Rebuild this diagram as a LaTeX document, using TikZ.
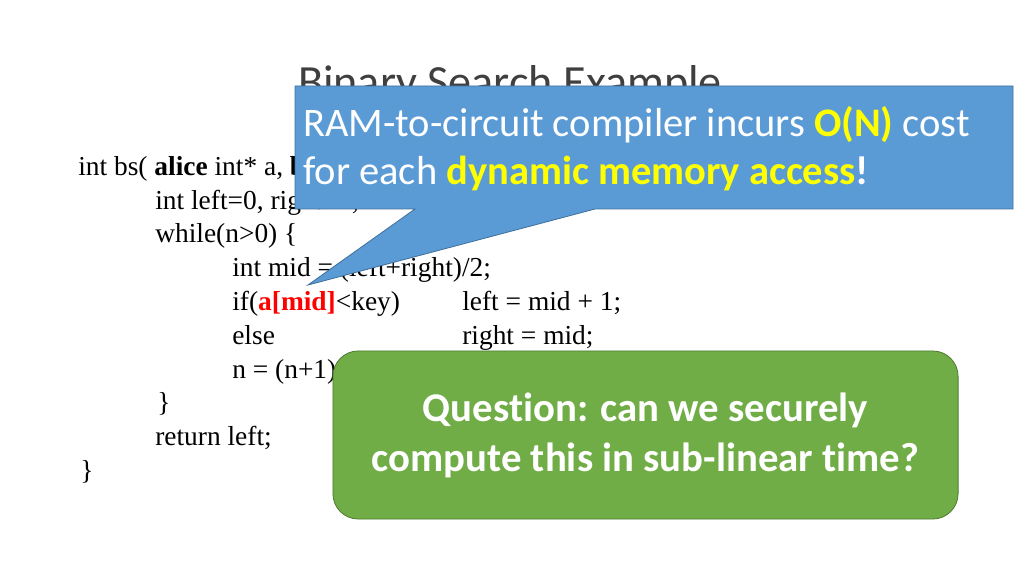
\documentclass[tikz,border=0pt]{standalone}
\usepackage{fontspec}
\setmainfont{Liberation Serif}
\newfontfamily\calibri[Ligatures=NoCommon]{Carlito}
\usetikzlibrary{positioning}
\definecolor{CTitle}{HTML}{3F3F3F}
\definecolor{CBlue}{HTML}{5B9BD5}
\definecolor{CBlueDark}{HTML}{41719C}
\definecolor{CGreen}{HTML}{70AD47}
\definecolor{CGreenDark}{HTML}{507E32}
\definecolor{CYellow}{HTML}{FFFF00}
\definecolor{CRed}{HTML}{FF0000}
\tikzset{
    code/.style={anchor=base west, inner sep=0pt, font=\fontsize{19.5}{24}\selectfont},
    calloutText/.style={anchor=base west, inner sep=0pt, text=white,
        font=\calibri\fontsize{28.8}{34}\selectfont}
}
\newcommand{\hlY}[1]{\textcolor{CYellow}{\textbf{#1}}}

\begin{document}
\begin{tikzpicture}[x=0.025cm, y=-0.025cm]
    \useasboundingbox (0,0) rectangle (1024,576);

    % --- 1. CODE ---
    \node[code] (ln1) at (78,176) {int bs( \textbf{alice} int* a, \textbf{bob} int key, int n) \{};
    \node[code] (ln2) at (155,210) {int left=0, right=n;};
    \node[code] (ln3) at (155,243) {while(n>0) \{};
    \node[code] (ln4) at (232,277) {int mid = (left+right)/2;};
    \node[code] (ln5) at (232,311) {if(\textcolor{CRed}{\textbf{a[mid]}}<key)};
    \node[code] (ln5b) at (462,311) {left = mid + 1;};
    \node[code] (ln6) at (232,344) {else};
    \node[code] (ln6b) at (462,344) {right = mid;};
    \node[code] (ln7) at (232,378) {n = (n+1)/2;};
    \node[code] (ln8) at (157,411) {\}};
    \node[code] (ln9) at (155,445) {return left;};
    \node[code] (ln10) at (80,479) {\}};

    % --- 2. TITLE ---
    \node[anchor=base, inner sep=0pt, text=CTitle,
          font=\calibri\fontsize{32.8}{38}\selectfont] (title) at (510,98) {Binary Search Example};

    % --- 3. CALLOUT ---
    \fill[CBlue, draw=CBlueDark, line width=0.6pt]
        (295,86) -- (1013,86) -- (1013,209) -- (595,209)
        -- (308,285) -- (415,209) -- (295,209) -- cycle;
    \node[calloutText] (ramA) at (303,137) {RAM-to-circuit compiler incurs \hlY{O(N)} cost};
    \node[calloutText] (ramB) at (303,185) {for each \hlY{dynamic memory access}\textbf{!}};

    % --- 4. QUESTION BOX ---
    \node[fill=CGreen, draw=CGreenDark, line width=0.6pt, rounded corners=18pt,
          minimum width=15.625cm, minimum height=4.2cm, inner sep=0pt,
          align=center, text=white,
          font=\calibri\bfseries\fontsize{29}{35.5}\selectfont] (question) at (645.5,435)
        {Question: can we securely\\compute this in sub-linear time?};

\end{tikzpicture}
\end{document}
